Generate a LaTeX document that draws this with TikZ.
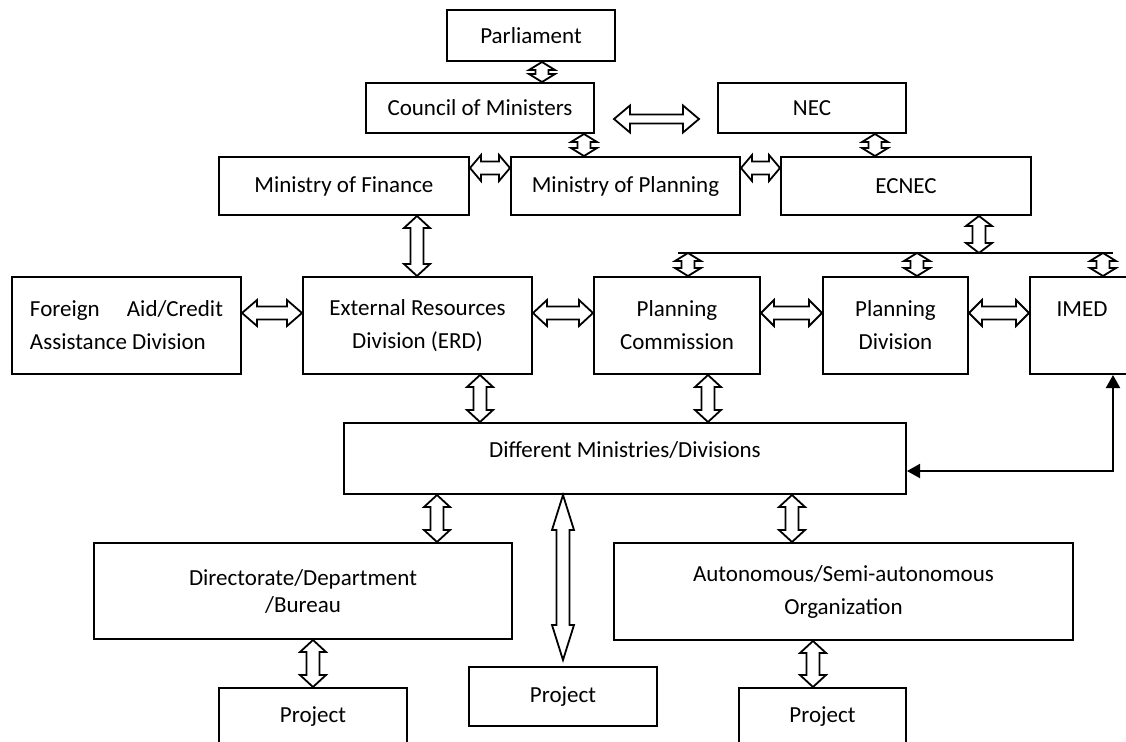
\documentclass[tikz,border=0pt]{standalone}
\usepackage{fontspec}
\setmainfont{Carlito}
\usetikzlibrary{calc,arrows.meta}
\tikzset{
  blkw/.store in=\blkw, blks/.store in=\blks, blkl/.store in=\blkl,
  blkw=13, blks=6.5, blkl=8,
  box/.style={draw, line width=1pt, inner sep=0pt, align=center, font=\fontsize{11.5}{16.5}\selectfont},
  vblk/.style={draw, line width=0.9pt, fill=white, to path={
      -- ($(\tikztostart)+(-\blkw,\blkl)$) -- ($(\tikztostart)+(-\blks,\blkl)$)
      -- ($(\tikztotarget)+(-\blks,-\blkl)$) -- ($(\tikztotarget)+(-\blkw,-\blkl)$)
      -- (\tikztotarget)
      -- ($(\tikztotarget)+(\blkw,-\blkl)$) -- ($(\tikztotarget)+(\blks,-\blkl)$)
      -- ($(\tikztostart)+(\blks,\blkl)$) -- ($(\tikztostart)+(\blkw,\blkl)$) -- cycle}},
  hblk/.style={draw, line width=0.9pt, fill=white, to path={
      -- ($(\tikztostart)+(\blkl,-\blkw)$) -- ($(\tikztostart)+(\blkl,-\blks)$)
      -- ($(\tikztotarget)+(-\blkl,-\blks)$) -- ($(\tikztotarget)+(-\blkl,-\blkw)$)
      -- (\tikztotarget)
      -- ($(\tikztotarget)+(-\blkl,\blkw)$) -- ($(\tikztotarget)+(-\blkl,\blks)$)
      -- ($(\tikztostart)+(\blkl,\blks)$) -- ($(\tikztostart)+(\blkl,\blkw)$) -- cycle}},
  tri/.tip={Triangle[length=6.5pt,width=7pt]}
}
\begin{document}
\begin{tikzpicture}[x=0.5pt,y=-0.5pt]
\useasboundingbox (0,0) rectangle (1126,741);
% boxes
\node[box, minimum width=84pt, minimum height=25.5pt] (par) at (531,35.5) {Parliament};
\node[box, minimum width=114pt, minimum height=25pt] (com) at (480,108) {Council of Ministers};
\node[box, minimum width=94pt, minimum height=25pt] (nec) at (812,108) {NEC};
\node[box, minimum width=125pt, minimum height=29pt] (mof) at (344,186) {Ministry of Finance};
\node[box, minimum width=114.5pt, minimum height=29pt] (mop) at (625.5,186) {Ministry of Planning};
\node[box, minimum width=125pt, minimum height=29pt] (ecn) at (906,186) {ECNEC};
\node[box, minimum width=114.5pt, minimum height=48.5pt, align=left] (fa) at (126.5,325.5) {\makebox[96.5pt][s]{Foreign\hfill Aid/Credit}\\Assistance Division};
\node[box, minimum width=114.5pt, minimum height=48.5pt] (erd) at (417.5,325.5) {External Resources\\Division (ERD)};
\node[box, minimum width=83pt, minimum height=48.5pt] (pc) at (677,325.5) {Planning\\Commission};
\node[box, minimum width=72.5pt, minimum height=48.5pt] (pd) at (895.5,325.5) {Planning\\Division};
\node[box, minimum width=52pt, minimum height=48.5pt] (imed) at (1082,325.5) {IMED\\\mbox{}};
\node[box, minimum width=281pt, minimum height=35.5pt, text height=8pt, text depth=9pt] (dmd) at (625,458.5) {Different Ministries/Divisions};
\node[box, minimum width=209pt, minimum height=48pt, font=\fontsize{11.5}{13.5}\selectfont] (dir) at (303,591) {Directorate/Department\\/Bureau};
\node[box, minimum width=229.5pt, minimum height=48.5pt] (aut) at (843.5,591.5) {Autonomous/Semi-autonomous\\Organization};
\node[box, minimum width=94pt, minimum height=29pt] (pj1) at (313,717) {Project};
\node[box, minimum width=94pt, minimum height=29.5pt] (pj2) at (563,696.5) {Project};
\node[box, minimum width=83.5pt, minimum height=29pt] (pj3) at (822.5,717) {Project};
\coordinate (cnl) at (614,119);
\coordinate (cnr) at (699,119);
\coordinate (busl) at (678,253);
\coordinate (busr) at (1113,253);
\coordinate (pj2t) at (563,660);
% top arrows
\draw[vblk] (542,0 |- par.south) to (542,0 |- com.north);
\draw[hblk, blkw=13.5, blks=4.5, blkl=16] (cnl) to (cnr);
\draw[vblk] (584,0 |- com.south) to (584,0 |- mop.north);
\draw[vblk] (875,0 |- nec.south) to (875,0 |- ecn.north);
\draw[hblk, blkl=11] (mof.east |- 0,168) to (mop.west |- 0,168);
\draw[hblk, blkl=11] (mop.east |- 0,168) to (ecn.west |- 0,168);
\draw[vblk, blkl=12] (417,0 |- mof.south) to (417,0 |- erd.north);
\draw[vblk, blkl=10] (979,0 |- ecn.south) to (979,0 |- busl);
\draw[line width=1pt] (busl) -- (busr);
\draw[vblk] (688,0 |- busl) to (688,0 |- pc.north);
\draw[vblk] (917,0 |- busl) to (917,0 |- pd.north);
\draw[vblk] (1103,0 |- busl) to (1103,0 |- imed.north);
% middle row
\draw[hblk, blkl=15] (fa.east |- 0,313) to (erd.west |- 0,313);
\draw[hblk, blkl=14] (erd.east |- 0,313) to (pc.west |- 0,313);
\draw[hblk, blkl=13] (pc.east |- 0,313) to (pd.west |- 0,313);
\draw[hblk, blkl=13] (pd.east |- 0,313) to (imed.west |- 0,313);
\draw[vblk, blkl=12] (480,0 |- erd.south) to (480,0 |- dmd.north);
\draw[vblk, blkl=12] (708,0 |- pc.south) to (708,0 |- dmd.north);
\draw[line width=1pt, tri-tri] (dmd.east |- 0,471) -| (1113,0 |- imed.south);
% lower part
\draw[vblk, blkl=12] (437,0 |- dmd.south) to (437,0 |- dir.north);
\draw[vblk, blkw=11, blkl=35] (563,0 |- dmd.south) to (pj2t);
\draw[vblk, blkl=12] (792,0 |- dmd.south) to (792,0 |- aut.north);
\draw[vblk, blkl=12] (313,0 |- dir.south) to (313,0 |- pj1.north);
\draw[vblk, blkl=12] (813,0 |- aut.south) to (813,0 |- pj3.north);
\end{tikzpicture}
\end{document}
